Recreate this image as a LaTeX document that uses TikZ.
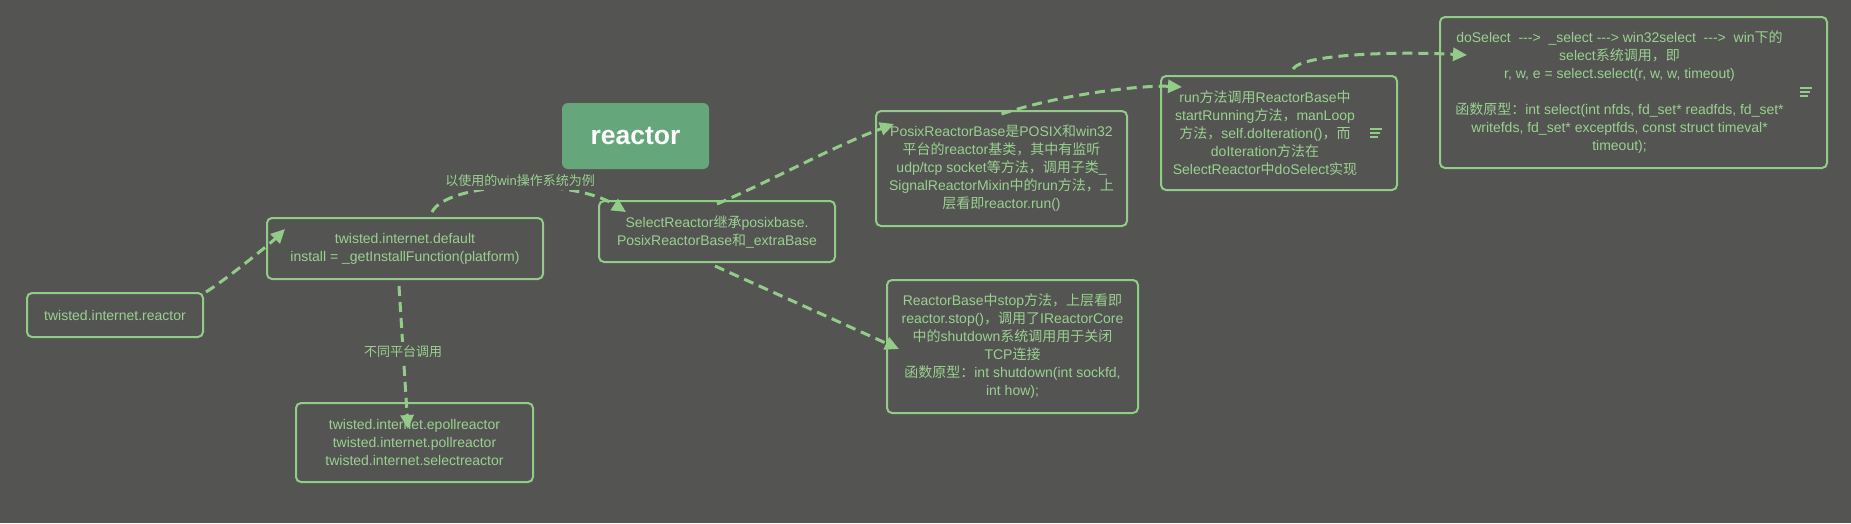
\documentclass[tikz,border=0pt]{standalone}
\usepackage{fontspec}
\setmainfont{Liberation Sans}
\newfontfamily\latfont{Liberation Sans}
\newfontfamily\cjkfont{Noto Sans CJK SC}
\usetikzlibrary{arrows.meta}

% Chinese characters in Noto Sans CJK, the rest in Liberation Sans
\newXeTeXintercharclass\cjkclass
\newcount\cjkcode
\newcommand\cjkrange[2]{%
  \cjkcode=#1\relax
  \loop
    \XeTeXcharclass\cjkcode=\cjkclass
    \ifnum\cjkcode<#2\relax
    \advance\cjkcode by 1
  \repeat}
\cjkrange{"3000}{"303F}
\cjkrange{"4E00}{"9FFF}
\cjkrange{"FF00}{"FFEF}
\XeTeXinterchartoks 0 \cjkclass = {\cjkfont}
\XeTeXinterchartoks 4095 \cjkclass = {\cjkfont}
\XeTeXinterchartoks \cjkclass 0 = {\latfont}
\XeTeXinterchartoks \cjkclass 4095 = {\latfont}
\XeTeXinterchartokenstate=1

\definecolor{bgcol}{HTML}{545553}
\definecolor{linecol}{HTML}{92CC88}
\definecolor{textcol}{HTML}{9AD08F}
\definecolor{titlecol}{HTML}{65A67A}

\begin{document}
\begin{tikzpicture}[x=1pt,y=-1pt,
  box/.style={draw=linecol,line width=2pt,rounded corners=5pt,align=center,
    text=textcol,font=\fontsize{14}{18}\selectfont},
  boxtext/.style={text=textcol,align=center,font=\fontsize{14}{18}\selectfont},
  link/.style={draw=linecol,line width=3pt,dash pattern=on 10pt off 6pt,
    -{Triangle[length=14pt,width=13pt]}},
  linktext/.style={fill=bgcol,text=textcol,inner sep=3pt,font=\fontsize{13}{13}\selectfont},
  noteicon/.style={draw=linecol,line width=1.3pt}]

% background
\fill[bgcol] (0,0) rectangle (1851,523);

% title
\node[fill=titlecol,rounded corners=6pt,minimum width=147pt,minimum height=66pt,
  text=white,font=\fontsize{26.5}{27}\selectfont\bfseries] (title) at (635.5,136) {reactor};

% twisted.internet.reactor
\node[box,minimum width=176pt,minimum height=44pt] (reactor) at (115,315)
  {twisted.internet.reactor};
% default
\node[box,minimum width=276pt,minimum height=61pt] (default) at (405,248.5)
  {twisted.internet.default\\install = \_getInstallFunction(platform)};
% platform reactors
\node[box,minimum width=237pt,minimum height=79pt] (platforms) at (414.5,442.5)
  {twisted.internet.epollreactor\\twisted.internet.pollreactor\\twisted.internet.selectreactor};

% SelectReactor
\node[box,minimum width=236pt,minimum height=61pt] (select) at (717,231.5)
  {SelectReactor继承posixbase.\\PosixReactorBase和\_extraBase};
% PosixReactorBase
\node[box,minimum width=251pt,minimum height=115pt] (posix) at (1001.5,168.5)
  {PosixReactorBase是POSIX和win32\\平台的reactor基类，其中有监听\\udp/tcp socket等方法，调用子类\_\\SignalReactorMixin中的run方法，上\\层看即reactor.run()};
% ReactorBase stop
\node[box,minimum width=251pt,minimum height=133pt] (stop) at (1012.5,346.5)
  {ReactorBase中stop方法，上层看即\\reactor.stop()，调用了IReactorCore\\中的shutdown系统调用用于关闭\\TCP连接\\函数原型：int shutdown(int sockfd,\\int how);};

% run
\node[box,minimum width=236pt,minimum height=114pt] (run) at (1279,133) {};
\node[boxtext] (runtext) at ([xshift=-14pt]run.center)
  {run方法调用ReactorBase中\\startRunning方法，manLoop\\方法，self.doIteration()，而\\doIteration方法在\\SelectReactor中doSelect实现};
\coordinate (runicon) at (1376,133);
\draw[noteicon] ([shift={(-6,-4)}]runicon) -- +(12,0)
  ([shift={(-6,0)}]runicon) -- +(10,0)
  ([shift={(-6,4)}]runicon) -- +(8,0);

% doSelect
\node[box,minimum width=387pt,minimum height=151pt] (dosel) at (1633.5,92.5) {};
\node[boxtext] (doseltext) at ([xshift=-14pt]dosel.center)
  {doSelect~ -{}-{}->~ \_select -{}-{}-> win32select~ -{}-{}->~ win下的\\select系统调用，即\\r, w, e = select.select(r, w, w, timeout)\\[18pt]函数原型：int select(int nfds, fd\_set* readfds, fd\_set*\\writefds, fd\_set* exceptfds, const struct timeval*\\timeout);};
\coordinate (doselicon) at (1806,92);
\draw[noteicon] ([shift={(-6,-4)}]doselicon) -- +(12,0)
  ([shift={(-6,0)}]doselicon) -- +(10,0)
  ([shift={(-6,4)}]doselicon) -- +(8,0);

% links
\draw[link] ([xshift=2pt]reactor.north east) .. controls +(25,-16) and +(-12,12)
  .. ([shift={(19,12)}]default.north west);
\draw[link] ([shift={(-6,6)}]default.south) -- ([shift={(-6.5,27)}]platforms.north)
  node[linktext,pos=0.455] {不同平台调用};
\draw[link] ([shift={(27,-5)}]default.north) .. controls +(15,-30) and +(-55,-35)
  .. ([shift={(28,12)}]select.north west)
  node[linktext,pos=0.5,xshift=6pt,yshift=7pt] {以使用的win操作系统为例};
\draw[link] ([yshift=-4pt]select.north) .. controls +(60,-26) and +(-60,22)
  .. ([shift={(19,14)}]posix.north west);
\draw[link] ([shift={(0,4)}]posix.north) .. controls +(60,-20) and +(-40,-2)
  .. ([shift={(22,12)}]run.north west);
\draw[link] ([shift={(14,-6)}]run.north) .. controls +(8,-14) and +(-80,-4)
  .. ([shift={(28,39)}]dosel.north west);
\draw[link] ([shift={(-2,3)}]select.south) -- ([shift={(13,70)}]stop.north west);
\end{tikzpicture}
\end{document}
